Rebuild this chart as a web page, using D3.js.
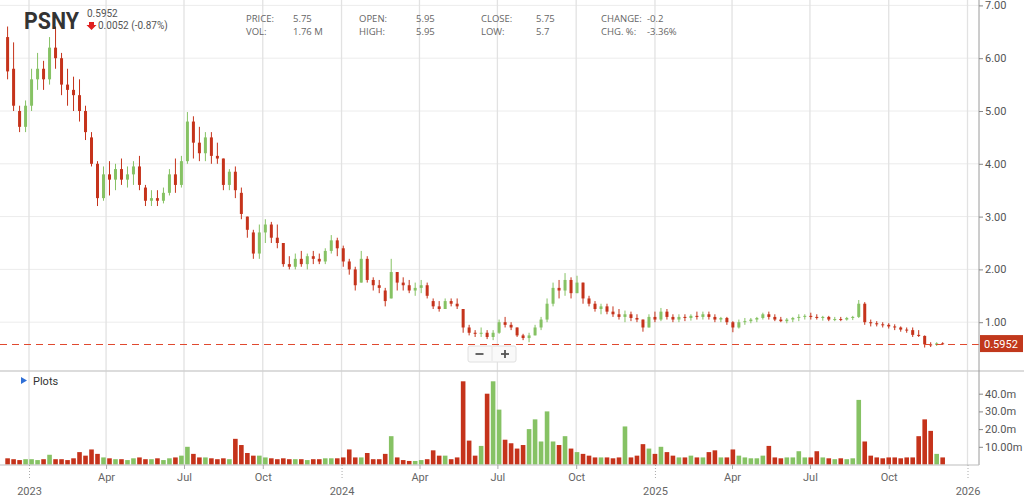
<!DOCTYPE html>
<html>
<head>
<meta charset="utf-8">
<script src="https://cdnjs.cloudflare.com/ajax/libs/d3/7.8.5/d3.min.js"></script>
<style>
  body { margin: 0; background: #fff; overflow: hidden; }
  svg text { font-family: Roboto, "Open Sans", sans-serif; }
</style>
</head>
<body>
<svg id="chart" width="1024" height="501"></svg>
<script>
// weekly bars, Monday of each week (Dec 2022 -> Dec 2025)
const weekStarts = d3.utcMonday.range(new Date(Date.UTC(2022, 11, 5)), new Date(Date.UTC(2025, 11, 2)));

const opens = [
  6.4, 5.8, 5.0, 4.7, 5.1, 5.6, 5.8, 5.6, 6.2, 6.0,
  5.5, 5.4, 5.3, 5.0, 4.5, 4.0, 3.35, 3.8, 3.7, 3.9,
  3.7, 3.8, 3.95, 3.55, 3.3, 3.35, 3.3, 3.45, 3.8, 3.6,
  4.05, 4.8, 4.4, 4.2, 4.5, 4.15, 4.1, 3.6, 3.85, 3.45,
  3.0, 2.7, 2.3, 2.7, 2.85, 2.6, 2.5, 2.1, 2.05, 2.2,
  2.1, 2.25, 2.2, 2.15, 2.35, 2.55, 2.4, 2.15, 2.0, 1.75,
  2.2, 1.8, 1.7, 1.6, 1.45, 1.95, 1.75, 1.7, 1.6, 1.65,
  1.7, 1.4, 1.3, 1.25, 1.4, 1.35, 1.25, 0.9, 0.8, 0.78,
  0.8, 0.72, 0.8, 1.0, 0.95, 0.9, 0.75, 0.7, 0.75, 0.9,
  1.05, 1.35, 1.65, 1.6, 1.8, 1.55, 1.75, 1.45, 1.35, 1.25,
  1.3, 1.2, 1.15, 1.1, 1.15, 1.08, 1.05, 0.9, 1.1, 1.05,
  1.2, 1.1, 1.05, 1.1, 1.08, 1.12, 1.1, 1.15, 1.1, 1.05,
  1.08, 1.0, 0.9, 1.0, 1.02, 1.05, 1.08, 1.15, 1.1, 1.05,
  1.02, 1.05, 1.08, 1.1, 1.12, 1.1, 1.08, 1.1, 1.05, 1.06,
  1.05, 1.08, 1.1, 1.35, 1.0, 0.98, 0.96, 0.95, 0.92, 0.9,
  0.86, 0.85, 0.76, 0.74, 0.58, 0.57, 0.6
];
const highs = [
  6.6, 6.3, 5.1, 5.2, 5.8, 6.1, 5.95, 6.4, 6.6, 6.1,
  5.8, 5.65, 5.6, 5.1, 4.6, 4.05, 3.95, 4.05, 4.0, 4.1,
  3.95, 4.05, 4.15, 3.6, 3.5, 3.5, 3.55, 3.9, 4.1, 4.15,
  4.98, 4.9, 4.7, 4.6, 4.6, 4.4, 4.1, 3.9, 3.95, 3.55,
  3.0, 2.75, 2.85, 2.95, 2.9, 2.85, 2.5, 2.25, 2.3, 2.35,
  2.3, 2.35, 2.3, 2.4, 2.65, 2.6, 2.45, 2.2, 2.05, 2.35,
  2.25, 1.85, 1.8, 1.65, 2.2, 1.95, 1.85, 1.8, 1.75, 1.8,
  1.75, 1.45, 1.4, 1.45, 1.45, 1.45, 1.25, 0.95, 0.85, 0.9,
  0.85, 0.85, 1.05, 1.1, 1.0, 0.9, 0.78, 0.8, 0.95, 1.1,
  1.45, 1.75, 1.8, 1.93, 1.85, 1.88, 1.75, 1.5, 1.4, 1.35,
  1.35, 1.3, 1.25, 1.22, 1.2, 1.15, 1.05, 1.15, 1.2, 1.27,
  1.25, 1.15, 1.15, 1.15, 1.15, 1.2, 1.2, 1.2, 1.15, 1.1,
  1.1, 1.02, 1.05, 1.08, 1.08, 1.1, 1.18, 1.2, 1.15, 1.1,
  1.08, 1.1, 1.15, 1.15, 1.18, 1.15, 1.12, 1.12, 1.1, 1.1,
  1.1, 1.12, 1.42, 1.38, 1.05, 1.02, 1.0, 0.98, 0.96, 0.92,
  0.9, 0.9, 0.85, 0.75, 0.62, 0.62, 0.62
];
const lows = [
  5.6, 5.0, 4.6, 4.6, 5.0, 5.4, 5.4, 5.5, 5.8, 5.3,
  5.1, 5.0, 4.8, 4.45, 3.95, 3.2, 3.3, 3.4, 3.5, 3.6,
  3.55, 3.6, 3.5, 3.2, 3.2, 3.2, 3.25, 3.4, 3.45, 3.55,
  4.0, 4.1, 4.05, 4.05, 4.0, 4.0, 3.5, 3.5, 3.35, 2.95,
  2.6, 2.2, 2.2, 2.5, 2.5, 2.4, 2.05, 2.0, 2.0, 2.05,
  2.0, 2.1, 2.1, 2.1, 2.3, 2.25, 2.05, 1.9, 1.6, 1.75,
  1.75, 1.6, 1.55, 1.3, 1.45, 1.6, 1.6, 1.55, 1.5, 1.55,
  1.45, 1.25, 1.2, 1.25, 1.3, 1.25, 0.8, 0.75, 0.72, 0.72,
  0.68, 0.66, 0.78, 0.9, 0.85, 0.72, 0.66, 0.62, 0.75, 0.85,
  1.0, 1.3, 1.45, 1.5, 1.45, 1.55, 1.35, 1.3, 1.2, 1.15,
  1.15, 1.1, 1.05, 1.0, 1.02, 1.0, 0.82, 0.9, 1.0, 1.02,
  1.05, 1.0, 1.0, 1.02, 1.03, 1.05, 1.05, 1.05, 1.0, 1.0,
  0.95, 0.81, 0.88, 0.95, 0.98, 1.0, 1.05, 1.05, 1.02, 1.0,
  0.98, 1.0, 1.02, 1.05, 1.05, 1.05, 1.03, 1.02, 1.02, 1.02,
  1.03, 1.04, 1.08, 0.95, 0.92, 0.92, 0.9, 0.88, 0.85, 0.82,
  0.8, 0.72, 0.72, 0.52, 0.53, 0.55, 0.58
];
const closes = [
  5.75, 5.1, 4.7, 5.1, 5.6, 5.8, 5.6, 6.2, 6.0, 5.5,
  5.4, 5.3, 5.0, 4.6, 4.0, 3.35, 3.8, 3.7, 3.9, 3.7,
  3.8, 3.95, 3.6, 3.3, 3.35, 3.3, 3.45, 3.8, 3.6, 4.05,
  4.8, 4.4, 4.2, 4.5, 4.15, 4.1, 3.6, 3.85, 3.5, 3.05,
  2.75, 2.3, 2.7, 2.85, 2.6, 2.5, 2.1, 2.05, 2.2, 2.1,
  2.25, 2.2, 2.15, 2.35, 2.55, 2.4, 2.15, 2.0, 1.7, 2.2,
  1.8, 1.7, 1.65, 1.4, 1.95, 1.75, 1.7, 1.6, 1.65, 1.7,
  1.5, 1.3, 1.25, 1.4, 1.35, 1.3, 0.9, 0.8, 0.78, 0.8,
  0.72, 0.8, 1.0, 0.95, 0.9, 0.75, 0.7, 0.75, 0.9, 1.05,
  1.35, 1.65, 1.6, 1.8, 1.55, 1.75, 1.45, 1.35, 1.25, 1.3,
  1.2, 1.15, 1.1, 1.15, 1.08, 1.05, 0.9, 1.1, 1.05, 1.2,
  1.1, 1.05, 1.1, 1.08, 1.12, 1.1, 1.15, 1.1, 1.05, 1.08,
  1.0, 0.9, 1.0, 1.02, 1.05, 1.08, 1.15, 1.1, 1.05, 1.02,
  1.05, 1.08, 1.1, 1.12, 1.1, 1.08, 1.1, 1.05, 1.06, 1.05,
  1.08, 1.1, 1.35, 1.0, 0.98, 0.96, 0.95, 0.92, 0.9, 0.86,
  0.85, 0.76, 0.74, 0.58, 0.57, 0.6, 0.5952
];
// peak daily volume of each week, millions
const volumes = [
  3.5, 3, 2.5, 3, 3, 2.5, 3, 5.5, 3, 3,
  2.5, 3.5, 7, 5, 8.5, 6, 4, 3.5, 3, 3,
  2.5, 3.5, 4, 3, 3, 3.5, 2.5, 3.5, 4, 5,
  10, 6, 4, 4, 3.5, 3, 3.5, 3, 14.5, 11,
  6.5, 5, 5, 4, 3.5, 3, 3.5, 3, 3, 3,
  2.5, 3, 3, 3.5, 3.5, 3.5, 4, 8.5, 4, 4,
  6.5, 3, 3, 6, 16, 4, 2.5, 2, 2, 2.5,
  3, 8, 5, 5, 3, 4, 47, 13.5, 5, 10.5,
  40, 47, 31, 14, 12, 9, 11, 20, 25.5, 13,
  30, 13, 11, 16, 9, 7, 6, 5, 4, 4,
  4, 3.5, 4, 21.5, 4, 5, 11.5, 9, 6, 10,
  7, 5, 4, 4, 5, 4, 4, 7, 8, 4,
  4, 8.5, 5, 4, 3.5, 3.5, 5, 10.5, 4, 3.5,
  4, 4, 7.5, 4, 4, 7.5, 4, 3.5, 3, 3.5,
  3, 3.5, 36.5, 13, 5, 4, 3.5, 4, 4, 3.5,
  4, 4, 16, 25.5, 19, 6, 4
];

const priceTicks = [1, 2, 3, 4, 5, 6, 7];
const volTicks = [10, 20, 30, 40];
const volTickLabels = ['10.00m', '20.0m', '30.0m', '40.0m'];
const monthNames = ['Jan', 'Feb', 'Mar', 'Apr', 'May', 'Jun', 'Jul', 'Aug', 'Sep', 'Oct', 'Nov', 'Dec'];
const lastPrice = 0.5952;

const infoCols = [
  { label: 'PRICE:', value: '5.75', label2: 'VOL:', value2: '1.76 M' },
  { label: 'OPEN:', value: '5.95', label2: 'HIGH:', value2: '5.95' },
  { label: 'CLOSE:', value: '5.75', label2: 'LOW:', value2: '5.7' },
  { label: 'CHANGE:', value: '-0.2', label2: 'CHG. %:', value2: '-3.36%' }
];

const svg = d3.select('#chart');
const axisX = 979;

const x = d3.scaleUtc()
  .domain([new Date(Date.UTC(2023, 0, 1)), new Date(Date.UTC(2026, 0, 1))])
  .range([29, 967.5]);
const yPrice = d3.scaleLinear().domain([0, 7]).range([375, 5.4]);
const yVol = d3.scaleLinear().domain([0, 40]).range([464.5, 393.7]);

const data = weekStarts.map((d, i) => ({
  date: d3.utcDay.offset(d, 2),
  open: opens[i], high: highs[i], low: lows[i], close: closes[i],
  vol: volumes[i],
  prev: i > 0 ? closes[i - 1] : opens[i]
}));

function barColor(d) {
  if (d.close >= d.open) return d.close >= d.prev ? '#86c264' : '#b9dda2';
  return d.close < d.prev ? '#c5331b' : '#e59a8a';
}

const dateTicks = d3.utcMonth.every(3).range(new Date(Date.UTC(2023, 0, 1)), new Date(Date.UTC(2026, 0, 2)));

// grid
svg.append('g').selectAll('line')
  .data(priceTicks)
  .enter().append('line')
  .attr('x1', 0).attr('x2', axisX)
  .attr('y1', d => yPrice(d)).attr('y2', d => yPrice(d))
  .attr('stroke', '#ececec');

svg.append('g').selectAll('line')
  .data(dateTicks)
  .enter().append('line')
  .attr('x1', d => x(d)).attr('x2', d => x(d))
  .attr('y1', 0).attr('y2', 465)
  .attr('stroke', '#e2e2e2')
  .attr('stroke-width', 1.3);

// panel separator
svg.append('line')
  .attr('x1', 0).attr('x2', 1024).attr('y1', 371).attr('y2', 371)
  .attr('stroke', '#d0d0d0').attr('stroke-width', 1.5);

// candles
const bw = 3;
const candle = svg.append('g').selectAll('g')
  .data(data)
  .enter().append('g');

candle.append('line')
  .attr('x1', d => x(d.date)).attr('x2', d => x(d.date))
  .attr('y1', d => yPrice(d.high)).attr('y2', d => yPrice(d.low))
  .attr('stroke', barColor)
  .attr('stroke-width', 1);

candle.append('rect')
  .attr('x', d => x(d.date) - bw / 2)
  .attr('width', bw)
  .attr('y', d => yPrice(Math.max(d.open, d.close)))
  .attr('height', d => Math.max(1, Math.abs(yPrice(d.open) - yPrice(d.close))))
  .attr('fill', barColor);

// volume bars
svg.append('g').selectAll('rect')
  .data(data)
  .enter().append('rect')
  .attr('x', d => x(d.date) - 2.3)
  .attr('width', 4.6)
  .attr('y', d => yVol(d.vol))
  .attr('height', d => yVol(0) - yVol(d.vol))
  .attr('fill', barColor);

// last price line
const py = yPrice(lastPrice);
const pyLine = Math.round(py) + 0.5;
svg.append('line')
  .attr('x1', 0).attr('x2', axisX)
  .attr('y1', pyLine).attr('y2', pyLine)
  .attr('stroke', '#e0492f')
  .attr('stroke-width', 1)
  .attr('stroke-dasharray', '7,5');

// right axes
svg.append('line')
  .attr('x1', axisX).attr('x2', axisX).attr('y1', 0).attr('y2', 465)
  .attr('stroke', '#9a9a9a');

const priceAxis = svg.append('g')
  .attr('transform', `translate(${axisX},0)`)
  .call(d3.axisRight(yPrice).tickValues(priceTicks).tickSize(4).tickPadding(2).tickFormat(d3.format('.2f')));

const volAxis = svg.append('g')
  .attr('transform', `translate(${axisX},0)`)
  .call(d3.axisRight(yVol).tickValues(volTicks).tickSize(4).tickPadding(2).tickFormat((d, i) => volTickLabels[i]));

[priceAxis, volAxis].forEach(g => {
  g.select('.domain').remove();
  g.selectAll('line').attr('stroke', '#888');
  g.selectAll('text').attr('fill', '#555').style('font-size', '11px');
});

// price label box
svg.append('rect')
  .attr('x', axisX + 1).attr('y', py - 8.5)
  .attr('width', 43).attr('height', 17)
  .attr('fill', '#c1381c');
svg.append('text')
  .attr('x', axisX + 5).attr('y', py + 4)
  .attr('fill', '#fff')
  .style('font-size', '11px')
  .text(lastPrice.toString());

// bottom axis
svg.append('line')
  .attr('x1', 0).attr('x2', axisX).attr('y1', 465).attr('y2', 465)
  .attr('stroke', '#bdbdbd');

const xAxis = svg.append('g')
  .attr('transform', 'translate(0,465)')
  .call(d3.axisBottom(x).tickValues(dateTicks).tickSize(4).tickPadding(4)
    .tickFormat(d => d.getUTCMonth() === 0 ? d.getUTCFullYear() : monthNames[d.getUTCMonth()]));
xAxis.select('.domain').remove();
xAxis.selectAll('line').attr('stroke', '#aaa');
xAxis.selectAll('text').attr('fill', '#666').style('font-size', '11px');
xAxis.selectAll('.tick')
  .filter(d => d.getUTCMonth() === 0)
  .each(function () {
    d3.select(this).select('line').attr('y2', 13).attr('stroke-dasharray', '1,2');
    d3.select(this).select('text').attr('y', 22);
  });

// zoom control
const zc = svg.append('g').attr('transform', 'translate(468,346)');
zc.append('rect').attr('width', 48).attr('height', 16).attr('rx', 2)
  .attr('fill', '#f9f9f9').attr('stroke', '#e0e0e0');
zc.append('line').attr('x1', 24).attr('x2', 24).attr('y1', 1).attr('y2', 15).attr('stroke', '#e4e4e4');
zc.append('line').attr('x1', 7.5).attr('x2', 15.5).attr('y1', 8).attr('y2', 8).attr('stroke', '#555').attr('stroke-width', 1.8);
zc.append('line').attr('x1', 33).attr('x2', 41).attr('y1', 8).attr('y2', 8).attr('stroke', '#555').attr('stroke-width', 1.8);
zc.append('line').attr('x1', 37).attr('x2', 37).attr('y1', 4).attr('y2', 12).attr('stroke', '#555').attr('stroke-width', 1.8);

// plots label
svg.append('path').attr('d', 'M21,377 L27,380.5 L21,384 Z').attr('fill', '#2f6fd6');
svg.append('text').attr('x', 33).attr('y', 384.5).attr('fill', '#333').style('font-size', '11px').text('Plots');

// header
svg.append('text')
  .attr('x', 24).attr('y', 29)
  .attr('fill', '#333')
  .attr('textLength', 55).attr('lengthAdjust', 'spacingAndGlyphs')
  .style('font-size', '23px').style('font-weight', 'bold')
  .text('PSNY');
svg.append('text')
  .attr('x', 87).attr('y', 17)
  .attr('fill', '#555')
  .style('font-size', '10px')
  .text('0.5952');
svg.append('path').attr('d', 'M89,22 L94,22 L94,25 L96.5,25 L91.5,30 L86.5,25 L89,25 Z').attr('fill', '#e02020');
svg.append('text')
  .attr('x', 98).attr('y', 29)
  .attr('fill', '#555')
  .style('font-size', '10px')
  .text('0.0052 (-0.87%)');

const labelX = [246, 359, 481, 601];
const valueX = [293, 416, 536, 647];
infoCols.forEach((c, i) => {
  const g = svg.append('g').style('font-size', '9.5px').attr('fill', '#666');
  g.append('text').attr('x', labelX[i]).attr('y', 21.5).style('font-family', '"Open Sans", sans-serif').text(c.label);
  g.append('text').attr('x', valueX[i]).attr('y', 21.5).style('font-family', '"Open Sans", sans-serif').text(c.value);
  g.append('text').attr('x', labelX[i]).attr('y', 35).style('font-family', '"Open Sans", sans-serif').text(c.label2);
  g.append('text').attr('x', valueX[i]).attr('y', 35).style('font-family', '"Open Sans", sans-serif').text(c.value2);
});
</script>
</body>
</html>
